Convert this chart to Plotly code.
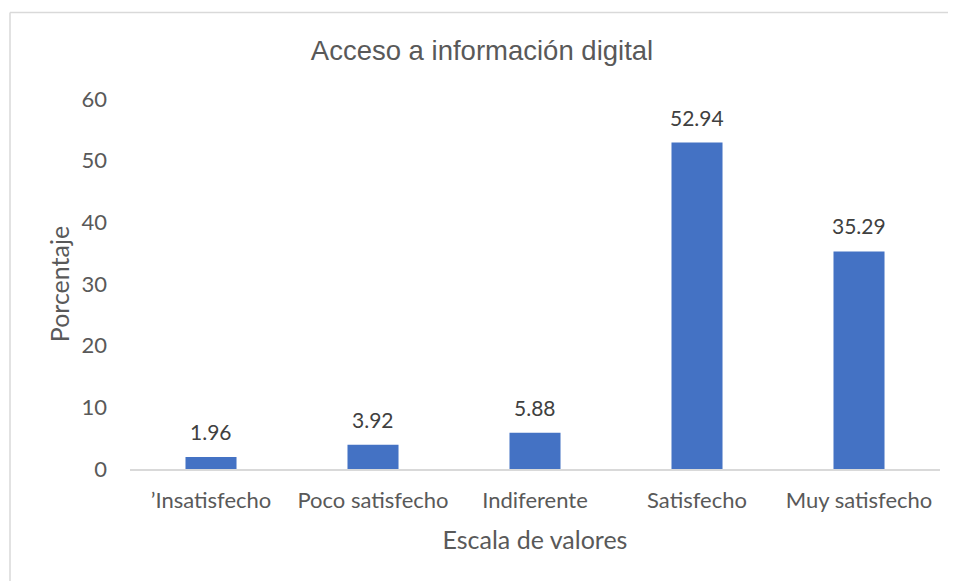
import plotly.graph_objects as go

categories = ["’Insatisfecho", "Poco satisfecho", "Indiferente", "Satisfecho", "Muy satisfecho"]
values = [1.96, 3.92, 5.88, 52.94, 35.29]
labels = ["1.96", "3.92", "5.88", "52.94", "35.29"]
y_ticks = [0, 10, 20, 30, 40, 50, 60]

FONT = "Lato, 'Open Sans', sans-serif"
GREY = "#595959"

# page body has an 8px margin; figure is sized/positioned to compensate
W, H = 948, 573
L, R, T, B = 122, 16, 91, 112
PW, PH = W - L - R, H - T - B

fig = go.Figure(go.Bar(x=categories, y=values, marker=dict(color="#4472C4", line=dict(width=0)),
                       hoverinfo="x+y"))

for c, v, t in zip(categories, values, labels):
    fig.add_annotation(x=c, y=v, text=t, showarrow=False, yanchor="bottom", yshift=11,
                       font=dict(family=FONT, size=21, color="#404040"))

bx = (2 - L) / PW
by = (H - B - 4.5) / PH

fig.update_layout(
    width=W, height=H,
    margin=dict(l=L, r=R, t=T, b=B, autoexpand=False),
    paper_bgcolor="white", plot_bgcolor="white",
    bargap=0.685,
    showlegend=False,
    title=dict(text="Acceso a información digital", x=0.5, xanchor="center", xref="container",
               y=1 - 42 / H, yanchor="middle", yref="container",
               font=dict(family="'Liberation Sans', Arial, sans-serif", size=27.5, color=GREY)),
    xaxis=dict(showgrid=False, showline=True, linecolor="#d9d9d9", linewidth=1.5,
               ticks="", tickfont=dict(family=FONT, size=22, color=GREY), ticklabelstandoff=11,
               title=dict(text="Escala de valores", font=dict(family=FONT, size=25, color=GREY), standoff=19),
               automargin=False),
    yaxis=dict(range=[0, 60], tickvals=y_ticks, showgrid=False, zeroline=False, showline=False,
               ticks="", tickfont=dict(family=FONT, size=22, color=GREY), ticklabelstandoff=22,
               title=dict(text="Porcentaje", font=dict(family=FONT, size=25, color=GREY), standoff=4),
               automargin=False),
    shapes=[
        dict(type="line", xref="paper", yref="paper", x0=bx, x1=1.2, y0=by, y1=by,
             line=dict(color="#d9d9d9", width=1.5)),
        dict(type="line", xref="paper", yref="paper", x0=bx, x1=bx, y0=by, y1=-0.5,
             line=dict(color="#d9d9d9", width=1.5)),
    ],
)

fig.write_html("out.html")
